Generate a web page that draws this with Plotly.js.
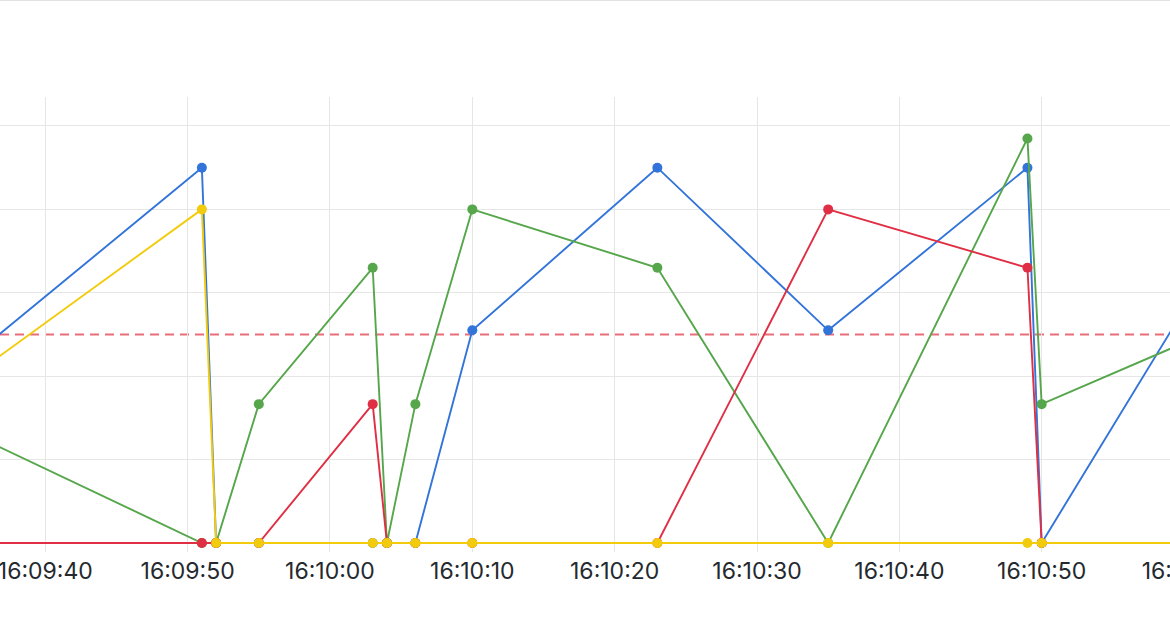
<!DOCTYPE html>
<html><head><meta charset="utf-8">
<script src="https://cdn.plot.ly/plotly-3.0.1.min.js"></script>
<style>
html,body{margin:0;padding:0;width:1170px;height:636px;overflow:hidden;background:#fff;}
#frame{position:absolute;left:0;top:0;width:1170px;height:636px;overflow:hidden;}
#chart{position:absolute;left:-100px;top:0;width:1400px;height:636px;}
#topline{position:absolute;left:0;top:0;width:1170px;height:1px;background:#e2e2e2;z-index:5;}
</style></head>
<body><div id="frame"><div id="chart"></div><div id="topline"></div></div>
<script>
const day = '2024-05-14 ';
const times = ['16:09:30','16:09:51','16:09:52','16:09:55','16:10:03','16:10:04','16:10:06','16:10:10','16:10:23','16:10:35','16:10:49','16:10:50','16:11:00'];
const blueVals   = [31, 90, 0, 0, 0, 0, 0, 51, 90, 51, 90, 0, 56];
const greenVals  = [34, 0, 0, 33.3, 66, 0, 33.3, 80, 66, 0, 97, 33.3, 48];
const redVals    = [0, 0, 0, 0, 33.3, 0, 0, 0, 0, 80, 66, 0, 0];
const yellowVals = [28, 80, 0, 0, 0, 0, 0, 0, 0, 0, 0, 0, 0];
const threshold = 50;

const x = times.map(t => day + t);
function tr(vals, color){
  return {x: x, y: vals, type:'scatter', mode:'lines+markers',
    line:{color: color, width:1.9}, marker:{color: color, size:10}, hoverinfo:'skip'};
}
const data = [
  tr(blueVals, '#3274D9'),
  tr(greenVals, '#56A64B'),
  tr(redVals, '#E02F44'),
  tr(yellowVals, '#F2CC0C')
];
const layout = {
  width:1400, height:636,
  margin:{l:40, r:50, t:97, b:84},
  paper_bgcolor:'#fff', plot_bgcolor:'#fff',
  showlegend:false, hovermode:false,
  font:{family:'Inter, "Noto Sans", sans-serif', color:'#24292e'},
  xaxis:{type:'date', range:[day+'16:09:32.602', day+'16:11:04.636'],
    tick0: day+'16:09:40', dtick:10000, tickformat:'%H:%M:%S',
    showgrid:true, gridcolor:'#e6e6e6', gridwidth:1, zeroline:false, showline:false,
    ticks:'', ticklabelstandoff:3,
    tickfont:{size:23, color:'#24292e', family:'Inter, "Noto Sans", sans-serif'}},
  yaxis:{range:[-2.16, 106.95], dtick:20, tick0:0, showgrid:true, gridcolor:'#e6e6e6',
    gridwidth:1, zeroline:false, showline:false, showticklabels:false, ticks:''},
  shapes:[{type:'line', xref:'paper', x0:0, x1:1, yref:'y', y0:threshold, y1:threshold,
    layer:'between', line:{color:'rgba(226,60,75,0.75)', width:1.8, dash:'9px,6px'}}]
};
Plotly.newPlot('chart', data, layout, {staticPlot:true, displayModeBar:false});
</script>
</body></html>
